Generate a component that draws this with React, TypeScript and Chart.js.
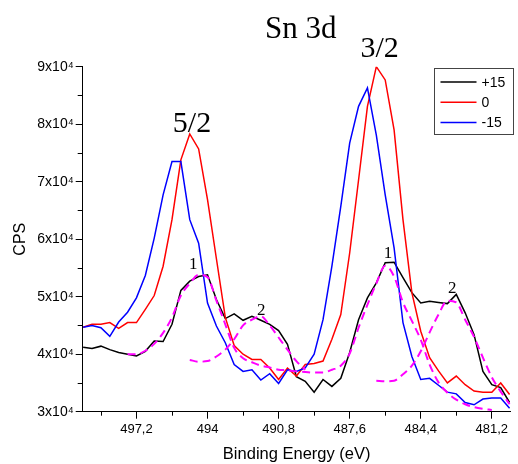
import { useEffect, useRef } from 'react';
import { Chart, registerables } from 'chart.js';

Chart.register(...registerables);

// Binding energy grid (eV), shared by every spectrum
const energy = [
  499.6, 499.2, 498.8, 498.4, 498.0, 497.6, 497.2, 496.8, 496.4, 496.0,
  495.6, 495.2, 494.8, 494.4, 494.0, 493.6, 493.2, 492.8, 492.4, 492.0,
  491.6, 491.2, 490.8, 490.4, 490.0, 489.6, 489.2, 488.8, 488.4, 488.0,
  487.6, 487.2, 486.8, 486.4, 486.0, 485.6, 485.2, 484.8, 484.4, 484.0,
  483.6, 483.2, 482.8, 482.4, 482.0, 481.6, 481.2, 480.8, 480.4,
];

// Sn 3d counts per second for the three conditions
const cpsPlus15 = [
  41200, 41000, 41400, 40800, 40300, 40000, 39700, 40500, 42300, 42200,
  45200, 51100, 52700, 53500, 53800, 49500, 46200, 47000, 45900, 46600,
  45900, 45200, 44100, 41700, 36100, 35300, 33400, 35600, 34400, 35800,
  40300, 46000, 49800, 52400, 55900, 56000, 53300, 50700, 48900, 49200,
  49000, 48800, 50400, 47200, 43400, 37000, 34700, 34200, 31600,
];
const cpsZero = [
  44700, 45200, 45200, 45500, 44500, 45500, 45500, 47800, 50200, 55300,
  63400, 73800, 78300, 75700, 66900, 56600, 46400, 41500, 40000, 39100,
  39100, 37600, 35600, 37600, 36200, 38200, 38400, 38800, 42600, 46900,
  57600, 70300, 83100, 90000, 87700, 79000, 63400, 50700, 44000, 39400,
  37100, 35000, 36200, 34700, 33600, 33400, 33400, 35000, 33000,
];
const cpsMinus15 = [
  44700, 45000, 44600, 43100, 45600, 47300, 49800, 53700, 60200, 67700,
  73500, 73500, 63400, 59300, 48900, 44900, 42000, 38200, 37000, 37300,
  35500, 36600, 34900, 37300, 37000, 37600, 40000, 46000, 55300, 65700,
  76700, 83100, 86300, 78100, 67700, 58500, 45500, 39600, 35600, 35800,
  34600, 33400, 33100, 31600, 31200, 32200, 32400, 32400, 30600,
];

// Fitted components of the +15 spectrum (1 = main, 2 = shoulder)
const fitComponent1 = [
  null, null, null, null, null, 40000, 40000, 40600, 41800, 43700,
  46400, 50200, 52300, 53800, 53400, 49300, 45200, 41100, 39300, 38600,
  38000, 37700, 37300, 37200, 37000, 36900, 36800, 36800, 37300, 38000,
  40100, 44600, 48600, 52300, 55400, 53500, 49000, 45800, 42500, 38200,
  35100, 33300, 32100, 31300, 30800, 30500, 30300, null, null,
];
const fitComponent2 = [
  null, null, null, null, null, null, null, null, null, null,
  null, null, 39000, 38700, 38800, 39600, 40800, 42600, 45000, 46000,
  46600, 45000, 42900, 40800, 38800, 37300, null, null, null, null,
  null, null, null, 35400, 35300, 35400, 36500, 38000, 40500, 43800,
  46900, 49300, 49000, 46000, 43000, 39400, 36000, 33500, 31300,
];

const seriesNames = ['+15', '0', '-15'];
const seriesColors = ['#000000', '#ff0000', '#0000ff'];
const fitColor = '#ff00ff';

// Axis ticks
const xTickValues = [497.2, 494, 490.8, 487.6, 484.4, 481.2];
const xTickLabels = ['497,2', '494', '490,8', '487,6', '484,4', '481,2'];
const xMinorValues = [498.8, 495.6, 492.4, 489.2, 486.0, 482.8];
const yTickValues = [30000, 40000, 50000, 60000, 70000, 80000, 90000];
const yTickLabels = ['3x10⁴', '4x10⁴', '5x10⁴', '6x10⁴', '7x10⁴', '8x10⁴', '9x10⁴'];
const yMinorValues = [35000, 45000, 55000, 65000, 75000, 85000];

// Text placed on the plot
const chartTitle = 'Sn 3d';
const doubletLabels = ['5/2', '3/2'];
const doubletEnergy = [494.7, 486.25];
const doubletCps = [78700, 91700];
const componentLabels = ['1', '2', '1', '2'];
const componentEnergy = [494.64, 491.58, 485.87, 482.98];
const componentCps = [54900, 46900, 56800, 50700];

const SANS = '"Liberation Sans", Arial, sans-serif';
const SERIF = '"Liberation Serif", "Times New Roman", serif';

const overlayPlugin = {
  id: 'snOverlay',
  afterDraw(chart: any) {
    const ctx = chart.ctx;
    const xs = chart.scales.x;
    const ys = chart.scales.y;
    const area = chart.chartArea;
    ctx.save();

    // minor ticks
    ctx.strokeStyle = '#000';
    ctx.lineWidth = 1;
    ctx.beginPath();
    xMinorValues.forEach((v) => {
      const px = Math.round(xs.getPixelForValue(v)) + 0.5;
      ctx.moveTo(px, area.bottom);
      ctx.lineTo(px, area.bottom + 4);
    });
    yMinorValues.forEach((v) => {
      const py = Math.round(ys.getPixelForValue(v)) + 0.5;
      ctx.moveTo(area.left, py);
      ctx.lineTo(area.left - 5, py);
    });
    ctx.stroke();

    ctx.fillStyle = '#000';
    ctx.textAlign = 'center';
    ctx.textBaseline = 'alphabetic';

    // title
    ctx.font = `31px ${SERIF}`;
    ctx.fillText(chartTitle, (area.left + area.right) / 2 + 4, 38);

    // doublet labels
    ctx.font = `30px ${SERIF}`;
    doubletLabels.forEach((t, i) => {
      ctx.fillText(t, xs.getPixelForValue(doubletEnergy[i]), ys.getPixelForValue(doubletCps[i]));
    });

    // component labels
    ctx.font = `17px ${SERIF}`;
    componentLabels.forEach((t, i) => {
      ctx.fillText(t, xs.getPixelForValue(componentEnergy[i]), ys.getPixelForValue(componentCps[i]));
    });

    // legend
    const bx = 434.5;
    const by = 68.5;
    const bw = 79;
    const bh = 66;
    ctx.strokeStyle = '#444';
    ctx.lineWidth = 1;
    ctx.strokeRect(bx, by, bw, bh);
    ctx.font = `14px ${SANS}`;
    ctx.textAlign = 'left';
    ctx.textBaseline = 'middle';
    seriesNames.forEach((name, i) => {
      const y = by + 13.5 + i * 20.3;
      ctx.strokeStyle = seriesColors[i];
      ctx.lineWidth = 1.5;
      ctx.beginPath();
      ctx.moveTo(bx + 6, y);
      ctx.lineTo(bx + 42, y);
      ctx.stroke();
      ctx.fillStyle = '#000';
      ctx.fillText(name, bx + 47, y + 1);
    });

    ctx.restore();
  },
};

export default function App() {
  const canvasRef = useRef<HTMLCanvasElement | null>(null);

  useEffect(() => {
    if (!canvasRef.current) return;
    const lineSet = (label: string, data: number[], color: string) => ({
      label,
      data,
      borderColor: color,
      backgroundColor: color,
      borderWidth: 1.5,
      pointRadius: 0,
      tension: 0,
      fill: false,
    });
    const fitSet = (label: string, data: (number | null)[]) => ({
      label,
      data,
      borderColor: fitColor,
      backgroundColor: fitColor,
      borderWidth: 2,
      borderDash: [8, 5],
      pointRadius: 0,
      cubicInterpolationMode: 'monotone' as const,
      spanGaps: false,
      fill: false,
    });

    const chart = new Chart(canvasRef.current, {
      type: 'line',
      data: {
        labels: energy,
        datasets: [
          fitSet('fit 1', fitComponent1),
          fitSet('fit 2', fitComponent2),
          lineSet(seriesNames[2], cpsMinus15, seriesColors[2]),
          lineSet(seriesNames[1], cpsZero, seriesColors[1]),
          lineSet(seriesNames[0], cpsPlus15, seriesColors[0]),
        ].map((d) => ({
          ...d,
          data: (d.data as (number | null)[]).map((v, i) => ({ x: energy[i], y: v })),
        })) as any,
      },
      options: {
        animation: false,
        responsive: true,
        maintainAspectRatio: false,
        parsing: true,
        layout: { padding: { top: 66.7, right: 7.3, left: 0, bottom: 0 } },
        plugins: {
          legend: { display: false },
          title: { display: false },
          tooltip: { enabled: false },
        },
        scales: {
          x: {
            type: 'linear',
            reverse: true,
            min: 480.35,
            max: 499.62,
            afterBuildTicks: (scale: any) => {
              scale.ticks = xTickValues.map((v) => ({ value: v }));
            },
            afterFit: (scale: any) => {
              scale.height = 52.3;
            },
            ticks: {
              autoSkip: false,
              maxRotation: 0,
              padding: 3,
              color: '#000',
              font: { family: SANS, size: 13 },
              callback: (_v: any, i: number) => xTickLabels[i],
            },
            grid: {
              drawOnChartArea: false,
              drawTicks: true,
              tickLength: 7,
              tickColor: '#000',
            },
            border: { display: true, color: '#000', width: 1 },
            title: {
              display: true,
              text: 'Binding Energy (eV)',
              color: '#000',
              font: { family: SANS, size: 16.5 },
              padding: { top: 0, bottom: 0 },
            },
          },
          y: {
            type: 'linear',
            min: 30000,
            max: 90000,
            afterBuildTicks: (scale: any) => {
              scale.ticks = yTickValues.map((v) => ({ value: v }));
            },
            afterFit: (scale: any) => {
              scale.width = 82.7;
            },
            ticks: {
              autoSkip: false,
              padding: 2,
              color: '#000',
              font: { family: SANS, size: 14 },
              callback: (_v: any, i: number) => yTickLabels[i],
            },
            grid: {
              drawOnChartArea: false,
              drawTicks: true,
              tickLength: 7,
              tickColor: '#000',
            },
            border: { display: true, color: '#000', width: 1 },
            title: {
              display: true,
              text: 'CPS',
              color: '#000',
              font: { family: SANS, size: 16 },
              padding: { top: 11, bottom: 0 },
            },
          },
        },
      },
      plugins: [overlayPlugin],
    });
    return () => chart.destroy();
  }, []);

  return (
    <div style={{ position: 'fixed', left: 0, top: 0, width: 518, height: 464, background: '#fff' }}>
      <canvas ref={canvasRef} />
    </div>
  );
}
